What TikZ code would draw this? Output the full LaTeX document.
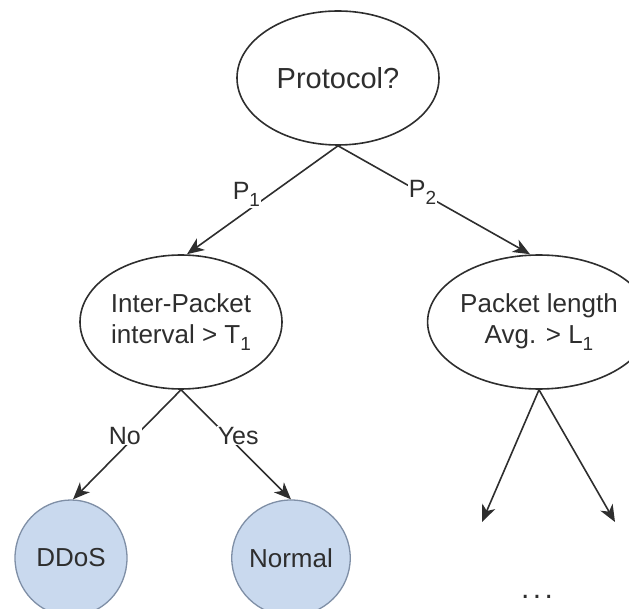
\documentclass[tikz,border=0pt]{standalone}
\usepackage{fontspec}
\setmainfont{Liberation Sans}
\usetikzlibrary{shapes.geometric,arrows.meta}
\definecolor{inkgray}{HTML}{2E2E2E}
\definecolor{leaffill}{HTML}{C9D9EE}
\definecolor{leafline}{HTML}{7F8FA6}
% lowered index digit, as in T1 / L1 / P1
\newcommand\lowidx[1]{\raisebox{-0.5ex}{\fontsize{19}{19}\selectfont #1}}

\begin{document}
\begin{tikzpicture}[x=1pt,y=-1pt,
  test/.style={ellipse, draw=inkgray, line width=1.6pt,
    minimum width=202pt, minimum height=134pt, inner sep=0pt,
    align=center, text=inkgray, font=\fontsize{26}{31}\selectfont},
  leaf/.style={ellipse, draw=leafline, fill=leaffill, line width=1.3pt,
    minimum width=112pt, minimum height=116pt, inner sep=0pt,
    text=inkgray, font=\fontsize{26}{31}\selectfont},
  conn/.style={draw=inkgray, line width=1.6pt,
    -{Stealth[length=17pt,width=14pt,inset=5pt]}},
  lbl/.style={fill=white, inner sep=1pt, text=inkgray,
    font=\fontsize{25}{28}\selectfont}
]
\useasboundingbox (0,0) rectangle (629,609);

% decision nodes
\node[test, font=\fontsize{29}{31}\selectfont] (proto) at (338,78) {Protocol?};
\node[test] (ipi)  at (181,322) {Inter-Packet\\interval > T\lowidx{1}};
\node[test] (plen) at (539,322) {Packet length\\Avg. > L\lowidx{1}};

% leaves
\node[leaf] (ddos)   at (71,558)  {DDoS};
\node[leaf] (normal) at (291,558) {Normal};

% open branches below the packet-length test
\coordinate (open1) at (482,522);
\coordinate (open2) at (615,522);
\node[text=inkgray, font=\fontsize{30}{30}\selectfont] (more) at (537,597) {.\kern3.5pt.\kern3.5pt.};

% connectors
\draw[conn] (proto.south) -- ([xshift=6pt]ipi.north)
  node[lbl, pos=0.58, xshift=-4pt, yshift=14pt] {P\lowidx{1}};
\draw[conn] (proto.south) -- ([xshift=-9pt]plen.north)
  node[lbl, pos=0.44, yshift=1pt] {P\lowidx{2}};
\draw[conn] (ipi.south) -- ([xshift=2pt]ddos.north)
  node[lbl, pos=0.52, yshift=11pt] {No};
\draw[conn] (ipi.south) -- (normal.north)
  node[lbl, pos=0.52, yshift=11pt] {Yes};
\draw[conn] (plen.south) -- (open1);
\draw[conn] (plen.south) -- (open2);
\end{tikzpicture}
\end{document}
